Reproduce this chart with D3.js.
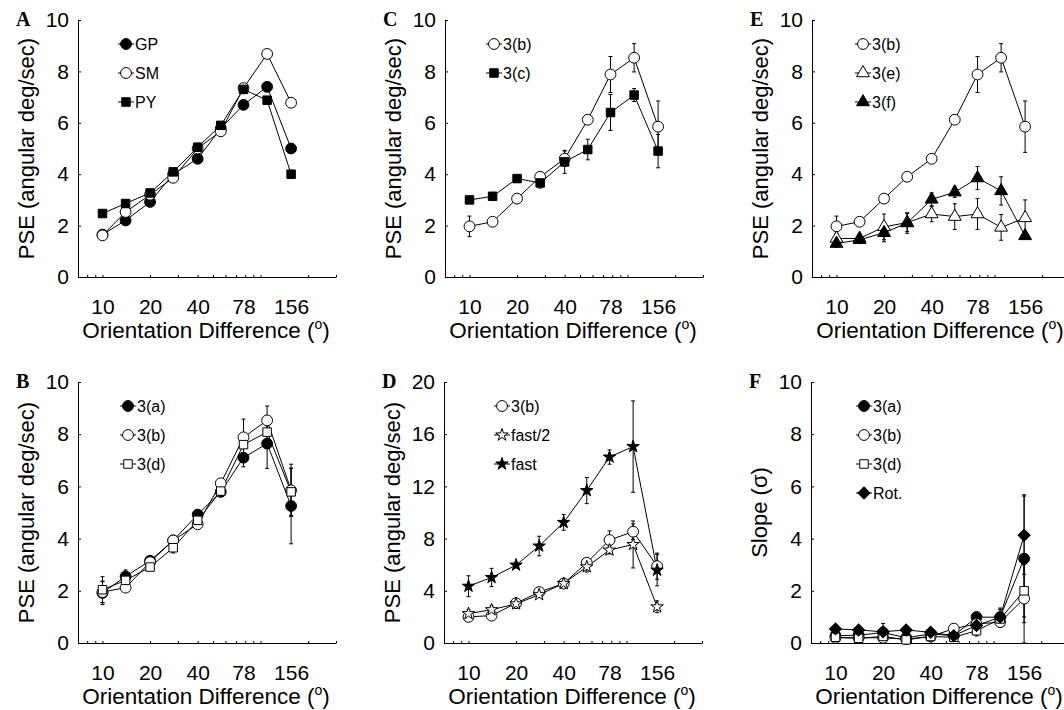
<!DOCTYPE html>
<html>
<head>
<meta charset="utf-8">
<script src="https://cdn.jsdelivr.net/npm/d3@7"></script>
<style>
  body { margin: 0; background: #fff; }
  text { font-family: "Liberation Sans", Arial, sans-serif; fill: #000; }
</style>
</head>
<body>
<div id="chart"></div>
<script>
// x positions (orientation difference, deg) shared by every panel
const xValues = [10, 14, 20, 28, 40, 56, 78, 110, 156]
const xTickLabels = [10, 20, 40, 78, 156]
const xMinorTicks = [8, 9, 10, 20, 30, 40, 50, 60, 70, 80, 90, 100, 200, 300]

// panel A
const gpA = [1.65, 2.2, 2.92, 4.0, 4.6, 5.78, 6.7, 7.4, 5.0]
const smA = [1.62, 2.53, 3.2, 3.86, 5.0, 5.67, 7.35, 8.68, 6.78]
const pyA = [2.47, 2.86, 3.27, 4.09, 5.05, 5.9, 7.3, 6.88, 4.0]

// panel C
const bC = [1.97, 2.15, 3.05, 3.9, 4.6, 6.12, 7.88, 8.53, 5.85]
const bCErr = [0.4, 0, 0, 0, 0.3, 0, 0.7, 0.55, 1.0]
const cC = [3.0, 3.14, 3.83, 3.66, 4.48, 4.96, 6.4, 7.08, 4.9]
const cCErr = [0.1, 0.15, 0, 0.2, 0.45, 0.4, 0.7, 0.25, 0.65]

// panel E
const bE = [1.97, 2.15, 3.05, 3.9, 4.6, 6.12, 7.88, 8.53, 5.85]
const bEErr = [0.4, 0, 0, 0, 0, 0, 0.7, 0.55, 1.0]
const eE = [1.5, 1.5, 1.95, 2.12, 2.45, 2.35, 2.45, 1.93, 2.3]
const eEErr = [0.2, 0.1, 0.5, 0.35, 0.3, 0.5, 0.6, 0.5, 0.7]
const fE = [1.3, 1.45, 1.72, 2.1, 3.02, 3.3, 3.85, 3.35, 1.6]
const fEErr = [0.15, 0.15, 0.35, 0.4, 0.25, 0.2, 0.45, 0.55, 0.1]

// panel B
const aB = [1.92, 2.55, 3.15, 3.93, 4.92, 5.79, 7.1, 7.64, 5.25]
const aBErr = [0.45, 0.25, 0.1, 0.1, 0.15, 0.1, 0.35, 0.95, 1.45]
const bB = [1.95, 2.12, 3.1, 3.93, 4.55, 6.12, 7.88, 8.53, 5.85]
const bBErr = [0.4, 0, 0, 0, 0, 0, 0.7, 0.55, 1.0]
const dB = [2.04, 2.4, 2.91, 3.65, 4.7, 5.82, 7.6, 8.08, 5.79]
const dBErr = [0.5, 0.15, 0.1, 0.2, 0.1, 0.1, 0.3, 0.3, 0.9]

// panel D
const bD = [2.0, 2.1, 3.05, 3.9, 4.56, 6.15, 7.89, 8.53, 5.89]
const bDErr = [0.3, 0, 0, 0, 0, 0, 0.7, 0.6, 1.0]
const halfD = [2.25, 2.55, 3.0, 3.7, 4.56, 5.84, 7.12, 7.55, 2.77]
const halfDErr = [0.3, 0.3, 0.2, 0.2, 0.2, 0.4, 0.3, 1.8, 0.45]
const fastD = [4.35, 5.02, 5.97, 7.43, 9.24, 11.68, 14.25, 15.05, 5.58]
const fastDErr = [0.8, 0.7, 0.2, 0.75, 0.6, 1.0, 0.55, 3.5, 1.2]

// panel F (slopes)
const aF = [0.28, 0.3, 0.4, 0.2, 0.35, 0.28, 0.99, 0.99, 3.23]
const aFErr = [0.1, 0.1, 0.35, 0.1, 0.1, 0.1, 0.2, 0.35, 2.45]
const bF = [0.2, 0.2, 0.2, 0.15, 0.25, 0.55, 0.73, 0.8, 1.7]
const bFErr = [0, 0, 0, 0, 0, 0, 0.1, 0.2, 1.7]
const dF = [0.22, 0.18, 0.25, 0.12, 0.25, 0.22, 0.47, 0.92, 2.0]
const dFErr = [0, 0, 0, 0, 0, 0, 0.2, 0.2, 1.0]
const rotF = [0.54, 0.5, 0.43, 0.5, 0.41, 0.28, 0.67, 0.99, 4.13]
const rotFErr = [0, 0, 0, 0, 0, 0, 0, 0.3, 1.5]

const width = 1064
const height = 710

const svg = d3.select('#chart')
  .append('svg')
  .attr('width', width)
  .attr('height', height)

svg.append('rect').attr('width', width).attr('height', height).attr('fill', '#fff')

const symbolTypes = {
  circle: d3.symbolCircle,
  square: d3.symbolSquare,
  triangle: d3.symbolTriangle,
  star: d3.symbolStar,
  diamond: d3.symbolSquare
}
const symbolSizes = { circle: 92, square: 72, triangle: 72, star: 48, diamond: 72 }

function marker(sel, shape, filled) {
  sel.append('path')
    .attr('d', d3.symbol().type(symbolTypes[shape]).size(symbolSizes[shape])())
    .attr('transform', shape == 'diamond' ? 'rotate(45)' : null)
    .attr('fill', filled ? '#000' : '#fff')
    .attr('stroke', '#000')
    .attr('stroke-width', 1)
}

const panels = [
  { letter: 'A', left: 78, top: 20, bottom: 277, yMax: 10, yTicks: [0, 2, 4, 6, 8, 10], ylabel: 'PSE (angular deg/sec)', legX: 48,
    series: [
      { name: 'GP', values: gpA, shape: 'circle', filled: true },
      { name: 'SM', values: smA, shape: 'circle', filled: false },
      { name: 'PY', values: pyA, shape: 'square', filled: true }
    ] },
  { letter: 'C', left: 445, top: 20, bottom: 277, yMax: 10, yTicks: [0, 2, 4, 6, 8, 10], ylabel: 'PSE (angular deg/sec)', legX: 49,
    series: [
      { name: '3(b)', values: bC, err: bCErr, shape: 'circle', filled: false },
      { name: '3(c)', values: cC, err: cCErr, shape: 'square', filled: true }
    ] },
  { letter: 'E', left: 812, top: 20, bottom: 277, yMax: 10, yTicks: [0, 2, 4, 6, 8, 10], ylabel: 'PSE (angular deg/sec)', legX: 51,
    series: [
      { name: '3(b)', values: bE, err: bEErr, shape: 'circle', filled: false },
      { name: '3(e)', values: eE, err: eEErr, shape: 'triangle', filled: false },
      { name: '3(f)', values: fE, err: fEErr, shape: 'triangle', filled: true }
    ] },
  { letter: 'B', left: 78, top: 382, bottom: 643, yMax: 10, yTicks: [0, 2, 4, 6, 8, 10], ylabel: 'PSE (angular deg/sec)', legX: 50,
    series: [
      { name: '3(a)', values: aB, err: aBErr, shape: 'circle', filled: true },
      { name: '3(b)', values: bB, err: bBErr, shape: 'circle', filled: false },
      { name: '3(d)', values: dB, err: dBErr, shape: 'square', filled: false }
    ] },
  { letter: 'D', left: 444, top: 382, bottom: 643, yMax: 20, yTicks: [0, 4, 8, 12, 16, 20], ylabel: 'PSE (angular deg/sec)', legX: 58,
    series: [
      { name: '3(b)', values: bD, err: bDErr, shape: 'circle', filled: false },
      { name: 'fast/2', values: halfD, err: halfDErr, shape: 'star', filled: false },
      { name: 'fast', values: fastD, err: fastDErr, shape: 'star', filled: true }
    ] },
  { letter: 'F', left: 811, top: 382, bottom: 643, yMax: 10, yTicks: [0, 2, 4, 6, 8, 10], ylabel: 'Slope (\u03c3)', legX: 53,
    series: [
      { name: '3(a)', values: aF, err: aFErr, shape: 'circle', filled: true },
      { name: '3(b)', values: bF, err: bFErr, shape: 'circle', filled: false },
      { name: '3(d)', values: dF, err: dFErr, shape: 'square', filled: false },
      { name: 'Rot.', values: rotF, err: rotFErr, shape: 'diamond', filled: true }
    ] }
]

panels.forEach(drawPanel)

function drawPanel(p) {
  const g = svg.append('g')

  const x = d3.scaleLog().domain([7, 300]).range([p.left, p.left + 258])
  const y = d3.scaleLinear().domain([0, p.yMax]).range([p.bottom, p.top])

  // y axis, ticks point inward
  g.append('g')
    .attr('transform', `translate(${p.left},0)`)
    .call(d3.axisLeft(y).tickValues(p.yTicks).tickSize(-3).tickSizeOuter(0).tickPadding(9))
    .call(a => a.selectAll('text').style('font-size', '21px'))

  // x axis line with little log ticks
  g.append('g')
    .attr('transform', `translate(0,${p.bottom})`)
    .call(d3.axisBottom(x).tickValues(xMinorTicks).tickSize(-2).tickSizeOuter(0).tickFormat(''))

  // x tick labels at the data positions
  g.append('g')
    .attr('transform', `translate(0,${p.bottom})`)
    .call(d3.axisBottom(x).tickValues(xTickLabels).tickSize(0).tickPadding(22).tickFormat(d3.format('d')))
    .call(a => a.select('.domain').remove())
    .call(a => a.selectAll('text').style('font-size', '21px'))

  // axis titles
  const xt = g.append('text')
    .attr('x', p.left + 128)
    .attr('y', p.bottom + 61)
    .attr('text-anchor', 'middle')
    .style('font-size', '22.5px')
  xt.append('tspan').text('Orientation Difference (')
  xt.append('tspan').attr('dy', -9).style('font-size', '14px').text('o')
  xt.append('tspan').attr('dy', 9).text(')')

  g.append('text')
    .attr('transform', `translate(${p.left - 44},${(p.top + p.bottom) / 2}) rotate(-90)`)
    .attr('text-anchor', 'middle')
    .style('font-size', '22px')
    .text(p.ylabel)

  g.append('text')
    .attr('x', p.left - 62)
    .attr('y', p.top + 6)
    .style('font-family', '"Liberation Serif", "Times New Roman", serif')
    .style('font-weight', 'bold')
    .style('font-size', '20px')
    .text(p.letter)

  const line = d3.line().x((d, i) => x(xValues[i])).y(d => y(d))

  // error bars and lines under the markers
  p.series.forEach(s => {
    if (s.err) {
      s.values.forEach((v, i) => {
        const e = s.err[i]
        if (!e) return
        const cx = x(xValues[i])
        g.append('line').attr('x1', cx).attr('x2', cx).attr('y1', y(v - e)).attr('y2', y(v + e))
          .attr('stroke', '#000').attr('stroke-width', 1)
        ;[v - e, v + e].forEach(t => {
          g.append('line').attr('x1', cx - 2).attr('x2', cx + 2).attr('y1', y(t)).attr('y2', y(t))
            .attr('stroke', '#000').attr('stroke-width', 1)
        })
      })
    }
    g.append('path')
      .datum(s.values)
      .attr('d', line)
      .attr('fill', 'none')
      .attr('stroke', '#000')
      .attr('stroke-width', 1)
  })

  p.series.forEach(s => {
    g.selectAll(null)
      .data(s.values)
      .enter()
      .append('g')
      .attr('transform', (d, i) => `translate(${x(xValues[i])},${y(d)})`)
      .each(function () { marker(d3.select(this), s.shape, s.filled) })
  })

  // legend
  p.series.forEach((s, i) => {
    const lg = g.append('g')
      .attr('transform', `translate(${p.left + p.legX},${p.top + 24 + 29 * i})`)
    lg.append('line').attr('x1', -8).attr('x2', 8).attr('stroke', '#000').attr('stroke-width', 1)
    marker(lg, s.shape, s.filled)
    lg.append('text')
      .attr('x', 9)
      .attr('dy', '0.36em')
      .style('font-size', '16px')
      .text(s.name)
  })
}
</script>
</body>
</html>
